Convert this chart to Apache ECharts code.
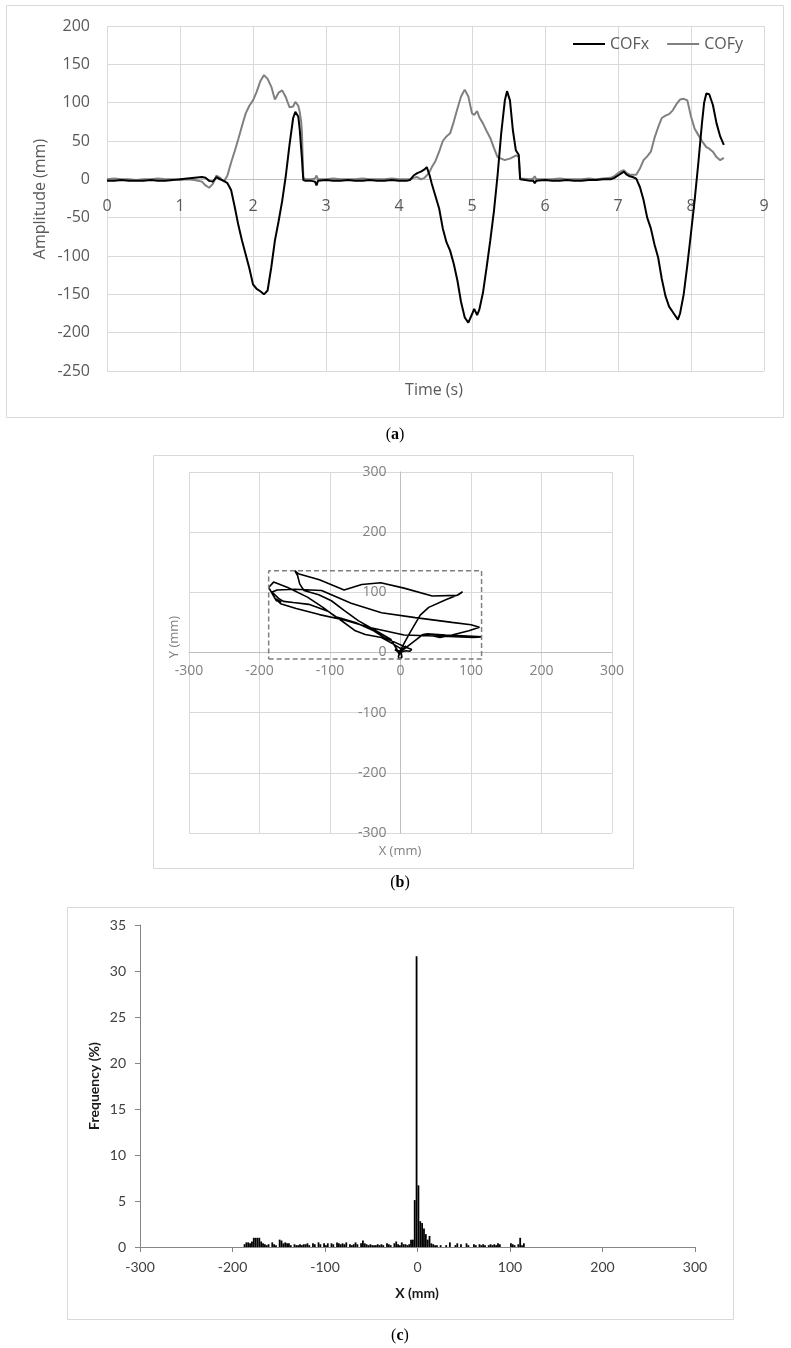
<!DOCTYPE html>
<html>
<head>
<meta charset="utf-8">
<script src="https://cdn.jsdelivr.net/npm/echarts@6/dist/echarts.min.js"></script>
<style>
html,body{margin:0;padding:0;background:#fff;}
#c{width:791px;height:1348px;}
</style>
</head>
<body>
<div id="c"></div>
<script>
// ---- Panel (a)/(b) data: time series of centre of force ----
const timeS = [0.00,0.10,0.20,0.30,0.40,0.50,0.60,0.70,0.80,0.90,1.00,1.10,1.20,1.30,1.35,1.40,1.45,1.50,1.55,1.60,1.65,
1.70,1.75,1.80,1.85,1.90,1.95,2.00,2.05,2.10,2.15,2.20,2.25,2.30,2.35,2.40,2.45,2.50,2.55,2.58,2.62,2.64,2.66,2.67,2.68,2.69,2.72,
2.80,2.85,2.87,2.89,3.00,3.10,3.20,3.30,3.40,3.50,3.60,3.70,3.80,3.90,4.00,4.10,
4.15,4.20,4.25,4.30,4.35,4.38,4.42,4.45,4.50,4.55,4.60,4.65,4.70,4.75,4.80,4.85,4.90,4.95,5.00,5.03,5.07,5.10,5.15,5.20,5.25,5.30,5.35,5.40,5.45,5.48,5.52,5.56,5.60,5.64,5.66,5.68,
5.80,5.84,5.86,5.88,6.00,6.10,6.20,6.30,6.40,6.50,6.60,6.70,6.80,
6.90,6.95,7.00,7.05,7.08,7.12,7.16,7.20,7.25,7.30,7.35,7.40,7.45,7.50,7.55,7.60,7.65,7.70,7.75,7.80,7.82,7.85,7.90,7.95,8.00,8.05,8.10,8.15,8.18,8.21,8.25,8.30,8.35,8.40,8.45];
const cofX = [-2,-2,-1,-2,-2,-2,-1,-2,-2,-1,0,1,2,3,2,-2,-3,3,0,-2,-5,
-14,-36,-60,-80,-98,-116,-137,-143,-146,-150,-145,-115,-80,-55,-28,5,45,80,88,82,65,40,28,12,-1,-2,
-2,-3,-8,-2,-1,-2,-2,-1,-2,-2,-1,-2,-2,-1,-2,-2,
-1,5,8,10,13,16,5,-6,-22,-38,-64,-82,-93,-110,-132,-160,-180,-187,-176,-169,-177,-170,-148,-115,-80,-42,5,60,103,115,103,64,38,32,0,-2,
-2,-2,-5,-2,-1,-2,-2,-1,-2,-2,-1,-1,0,
0,2,5,8,10,6,4,3,1,-10,-27,-50,-64,-85,-102,-130,-152,-166,-173,-180,-183,-175,-150,-112,-70,-27,21,73,100,112,111,97,73,56,45];
const cofY = [0,1,0,0,-1,0,0,1,0,0,-1,0,-1,-3,-8,-11,-6,5,2,-3,5,
22,37,53,70,86,96,103,114,128,136,131,121,104,113,116,107,94,95,101,96,88,75,62,30,2,0,
0,1,5,0,0,1,0,0,0,1,0,0,0,1,0,0,
0,2,3,0,2,5,10,16,24,36,50,56,60,75,92,108,117,108,86,84,89,81,73,63,54,41,29,27,25,26,27,29,31,30,1,0,
0,1,4,0,0,0,1,0,0,0,1,0,1,
2,4,8,11,12,8,6,6,6,14,25,30,36,54,68,80,83,85,90,98,100,104,105,103,82,66,58,50,46,42,40,36,29,25,28];

// ---- Panel (c) data: histogram of COFx ----
const histBins = [-187,-185,-183,-181,-179,-177,-175,-173,-171,-169,-167,-165,-163,-161,-159,-157,-155,-153,-151,-149,
-147,-145,-143,-141,-139,-137,-135,-133,-131,-129,-127,-125,-123,-121,-119,-117,-115,-113,-111,-109,
-107,-105,-103,-101,-99,-97,-95,-93,-91,-89,-87,-85,-83,-81,-79,-77,-75,-73,-71,-69,
-67,-65,-63,-61,-59,-57,-55,-53,-51,-49,-47,-45,-43,-41,-39,-37,-35,-33,-31,-29,
-27,-25,-23,-21,-19,-17,-15,-13,-11,-9,-7,-5,-3,-1,1,3,5,7,9,11,
13,15,17,19,21,23,25,27,29,31,33,35,37,39,41,43,45,47,49,51,
53,55,57,59,61,63,65,67,69,71,73,75,77,79,81,83,85,87,89,91,
93,95,97,99,101,103,105,107,109,111,113,115];
const histFreq = [0.3,0.5,0.5,0.4,0.6,1.0,1.0,1.0,1.0,0.6,0.4,0.3,0.2,0.3,0,0.5,0.3,0.2,0,0.8,
0.7,0.4,0.5,0.4,0.4,0.2,0,0.3,0.2,0.2,0.3,0.2,0.3,0.3,0.4,0.2,0,0.4,0.3,0,
0.5,0.3,0,0.4,0.2,0.4,0,0.4,0.3,0,0.5,0.4,0.3,0.4,0.3,0.5,0,0.3,0.2,0.3,
0.5,0.3,0,0.4,0.7,0.4,0.3,0.2,0.3,0.2,0.2,0.2,0.3,0.2,0.3,0.2,0,0.4,0.3,0.2,
0,0.4,0.6,0.3,0.2,0.5,0.3,0.3,0.2,0.3,0.8,0.8,5.1,31.6,6.7,2.8,2.6,2.0,1.4,0.8,
1.2,0.4,0.3,0.2,0.2,0,0.2,0,0,0.2,0,0.5,0,0,0.2,0.4,0,0.3,0,0,
0.4,0.2,0,0,0.3,0.2,0,0.3,0.2,0.3,0.2,0,0.2,0.3,0.2,0.3,0.2,0.4,0.3,0,
0,0,0,0,0.4,0.3,0.2,0,0.3,1.0,0.2,0.4];

// ---- derived structures ----
const seriesX = timeS.map((t, i) => [t, cofX[i]]);
const seriesY = timeS.map((t, i) => [t, cofY[i]]);
const trajectory = cofX.map((x, i) => [x, cofY[i]]);
const minX = Math.min(...cofX), maxX = Math.max(...cofX);
const minY = Math.min(...cofY), maxY = Math.max(...cofY);
const boundRect = [[minX, minY], [maxX, minY], [maxX, maxY], [minX, maxY], [minX, minY]];
const histData = histBins.map((b, i) => [b, histFreq[i]]);

// grid boxes
const gA = {left: 107, top: 26, width: 657, height: 345};
const gB = {left: 189, top: 472, width: 423, height: 361};
const gC = {left: 140, top: 925, width: 555, height: 322};
const aYmin = -250, aYmax = 200, bMin = -300, bMax = 300;
// distance of the zero line from the grid edges (axes cross at zero, Excel style)
const aZeroOff = gA.height * (0 - aYmin) / (aYmax - aYmin);
const bZeroOffY = gB.height * (0 - bMin) / (bMax - bMin);
const bZeroOffX = gB.width * (0 - bMin) / (bMax - bMin);

const fA = 'Open Sans', fC = 'Lato';
const chart = echarts.init(document.getElementById('c'), null, {renderer: 'canvas'});

function txt(x, y, text, font, fill, rot) {
  return {type: 'text', x: x, y: y, rotation: rot || 0, silent: true,
    style: {text: text, font: font, fill: fill, align: 'center', verticalAlign: 'middle'}};
}
function box(x, y, w, h) {
  return {type: 'rect', silent: true, shape: {x: x + 0.5, y: y + 0.5, width: w, height: h},
    style: {fill: 'none', stroke: '#d9d9d9', lineWidth: 1}};
}
function cap(x, y, letter) {
  return {type: 'text', x: x, y: y, silent: true,
    style: {text: '(' + '{b|' + letter + '}' + ')', font: '16px "Liberation Serif"', fill: '#000',
      align: 'center', verticalAlign: 'middle',
      rich: {b: {fontWeight: 'bold', fontSize: 16, fontFamily: 'Liberation Serif'}}}};
}

chart.setOption({
  animation: false,
  backgroundColor: '#fff',
  legend: {
    data: ['COFx', 'COFy'], left: 573, top: 36, padding: 0,
    icon: 'rect', itemWidth: 32, itemHeight: 2, itemGap: 18,
    textStyle: {color: '#595959', fontSize: 16, fontFamily: fA}
  },
  grid: [gA, gB, gC],
  xAxis: [
    {gridIndex: 0, type: 'value', min: 0, max: 9, interval: 1, position: 'bottom',
      offset: -aZeroOff,
      axisLine: {show: true, onZero: false, lineStyle: {color: '#bfbfbf', width: 1}},
      axisTick: {show: false},
      axisLabel: {color: '#595959', fontSize: 16, fontFamily: fA, margin: 19},
      splitLine: {show: true, lineStyle: {color: '#d9d9d9', width: 1}}},
    {gridIndex: 1, type: 'value', min: bMin, max: bMax, interval: 100, position: 'bottom',
      offset: -bZeroOffY,
      axisLine: {show: true, onZero: false, lineStyle: {color: '#bfbfbf', width: 1}},
      axisTick: {show: false},
      axisLabel: {color: '#808080', fontSize: 14, fontFamily: fA, margin: 12},
      splitLine: {show: true, lineStyle: {color: '#d9d9d9', width: 1}}},
    {gridIndex: 2, type: 'value', min: -300, max: 300, interval: 100,
      axisLine: {show: true, onZero: false, lineStyle: {color: '#868686', width: 1}},
      axisTick: {show: true, length: 5, lineStyle: {color: '#868686'}},
      axisLabel: {color: '#404040', fontSize: 14, fontFamily: fC, margin: 13},
      splitLine: {show: false}}
  ],
  yAxis: [
    {gridIndex: 0, type: 'value', min: aYmin, max: aYmax, interval: 50,
      axisLine: {show: false, onZero: false}, axisTick: {show: false},
      axisLabel: {color: '#595959', fontSize: 16, fontFamily: fA, margin: 17},
      splitLine: {show: true, lineStyle: {color: '#d9d9d9', width: 1}}},
    {gridIndex: 1, type: 'value', min: bMin, max: bMax, interval: 100, position: 'left',
      offset: -bZeroOffX,
      axisLine: {show: true, onZero: false, lineStyle: {color: '#bfbfbf', width: 1}},
      axisTick: {show: false},
      axisLabel: {color: '#808080', fontSize: 14, fontFamily: fA, margin: 14},
      splitLine: {show: true, lineStyle: {color: '#d9d9d9', width: 1}}},
    {gridIndex: 2, type: 'value', min: 0, max: 35, interval: 5,
      axisLine: {show: true, onZero: false, lineStyle: {color: '#868686', width: 1}},
      axisTick: {show: true, length: 5, lineStyle: {color: '#868686'}},
      axisLabel: {color: '#404040', fontSize: 14, fontFamily: fC, margin: 14},
      splitLine: {show: false}}
  ],
  series: [
    {name: 'COFy', type: 'line', xAxisIndex: 0, yAxisIndex: 0, data: seriesY,
      showSymbol: false, symbol: 'none', smooth: false,
      lineStyle: {color: '#808080', width: 2}, itemStyle: {color: '#808080'}},
    {name: 'COFx', type: 'line', xAxisIndex: 0, yAxisIndex: 0, data: seriesX,
      showSymbol: false, symbol: 'none', smooth: false,
      lineStyle: {color: '#000', width: 2}, itemStyle: {color: '#000'}},
    {type: 'line', xAxisIndex: 1, yAxisIndex: 1, data: trajectory,
      showSymbol: false, symbol: 'none',
      lineStyle: {color: '#000', width: 1.6}},
    {type: 'line', xAxisIndex: 1, yAxisIndex: 1, data: boundRect,
      showSymbol: false, symbol: 'none',
      lineStyle: {color: '#7f7f7f', width: 1.5, type: [5, 3]}},
    {type: 'bar', xAxisIndex: 2, yAxisIndex: 2, data: histData,
      barWidth: 1.8, itemStyle: {color: '#000'}}
  ],
  graphic: [
    box(6, 5, 777, 412),
    box(153, 455, 480, 413),
    box(67, 907, 666, 412),
    txt(40, 199, 'Amplitude (mm)', '16px "Open Sans"', '#595959', Math.PI / 2),
    txt(434, 390, 'Time (s)', '16px "Open Sans"', '#595959'),
    txt(174, 637, 'Y (mm)', '13px "Open Sans"', '#808080', Math.PI / 2),
    txt(400, 851, 'X (mm)', '13px "Open Sans"', '#808080'),
    txt(94, 1086, 'Frequency (%)', 'bold 14px Lato', '#1a1a1a', Math.PI / 2),
    txt(417, 1293, 'X (mm)', 'bold 14px Lato', '#1a1a1a'),
    cap(395, 435, 'a'),
    cap(400, 883, 'b'),
    cap(400, 1336, 'c')
  ]
});
</script>
</body>
</html>
